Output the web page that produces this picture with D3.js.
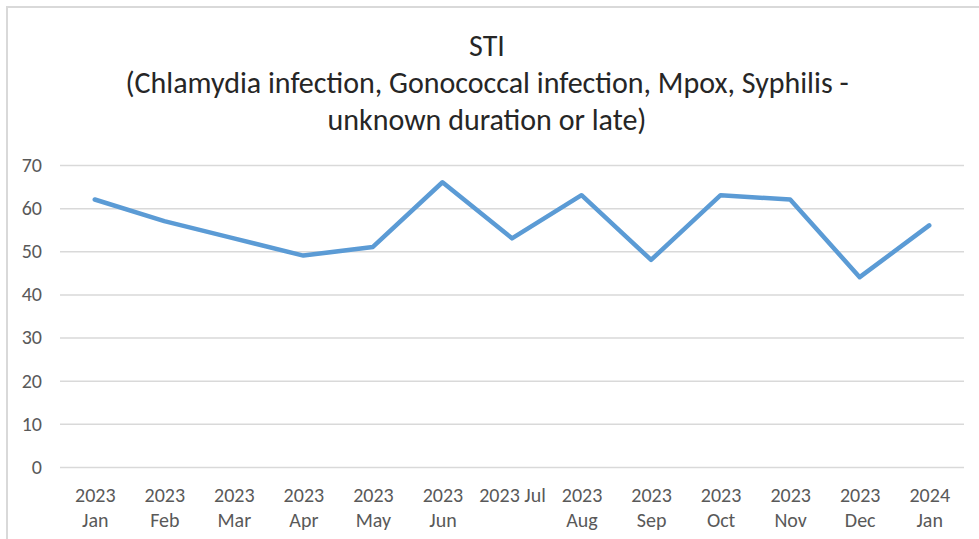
<!DOCTYPE html>
<html>
<head>
<meta charset="utf-8">
<script src="https://cdn.jsdelivr.net/npm/d3@7"></script>
<style>
  body { margin: 0; background: #fff; }
  text { font-family: Carlito, "Noto Sans", "Open Sans", sans-serif; }
</style>
</head>
<body>
<div id="chart"></div>
<script>
var months = ["2023 Jan", "2023 Feb", "2023 Mar", "2023 Apr", "2023 May", "2023 Jun",
  "2023 Jul", "2023 Aug", "2023 Sep", "2023 Oct", "2023 Nov", "2023 Dec", "2024 Jan"];
var counts = [62, 57, 53, 49, 51, 66, 53, 63, 48, 63, 62, 44, 56];
var yTicks = [0, 10, 20, 30, 40, 50, 60, 70];
var titleLines = ["STI",
  "(Chlamydia infection, Gonococcal infection, Mpox, Syphilis -",
  "unknown duration or late)"];

var svgWidth = 979;
var svgHeight = 539;

var margin = { top: 165, right: 15, bottom: 72, left: 60 };
var width = svgWidth - margin.left - margin.right;
var height = svgHeight - margin.top - margin.bottom;

var svg = d3.select("#chart")
  .append("svg")
  .attr("width", svgWidth)
  .attr("height", svgHeight);

// chart border (only top and left are in frame)
svg.append("rect")
  .attr("x", 7)
  .attr("y", 7)
  .attr("width", svgWidth + 20)
  .attr("height", svgHeight + 20)
  .attr("fill", "none")
  .attr("stroke", "#d9d9d9")
  .attr("stroke-width", 2);

// title
svg.append("text")
  .attr("text-anchor", "middle")
  .attr("fill", "#262626")
  .style("font-size", "30px")
  .selectAll("tspan")
  .data(titleLines)
  .join("tspan")
  .attr("x", 487)
  .attr("y", (d, i) => 56 + i * 37)
  .text(d => d);

var chartGroup = svg.append("g")
  .attr("transform", `translate(${margin.left}, ${margin.top})`);

var xScale = d3.scalePoint()
  .domain(months)
  .range([0, width])
  .padding(0.5);

var yScale = d3.scaleLinear()
  .domain([0, 70])
  .range([height, 0]);

// gridlines
var leftAxis = d3.axisLeft(yScale)
  .tickValues(yTicks)
  .tickSize(-width)
  .tickPadding(18);

var yAxisG = chartGroup.append("g").call(leftAxis);
yAxisG.select(".domain").remove();
yAxisG.selectAll(".tick line").attr("stroke", "#d9d9d9").attr("stroke-width", 1.5);
yAxisG.selectAll(".tick text")
  .attr("fill", "#595959")
  .style("font-size", "20px");

// x labels
var bottomAxis = d3.axisBottom(xScale).tickSize(0).tickPadding(0);
var xAxisG = chartGroup.append("g")
  .attr("transform", `translate(0, ${height})`)
  .call(bottomAxis);
xAxisG.select(".domain").remove();
xAxisG.selectAll(".tick text").each(function(d) {
  var t = d3.select(this).text("")
    .attr("fill", "#595959")
    .attr("y", 0)
    .attr("dy", null)
    .style("font-size", "20px");
  var lines = d === "2023 Jul" ? [d] : d.split(" ");
  lines.forEach(function(l, i) {
    t.append("tspan").attr("x", 0).attr("y", 35 + i * 25).text(l);
  });
});

// line
var line = d3.line()
  .x((d, i) => xScale(months[i]))
  .y(d => yScale(d));

chartGroup.append("path")
  .datum(counts)
  .attr("fill", "none")
  .attr("stroke", "#5b9bd5")
  .attr("stroke-width", 4.5)
  .attr("stroke-linejoin", "round")
  .attr("stroke-linecap", "round")
  .attr("d", line);
</script>
</body>
</html>
